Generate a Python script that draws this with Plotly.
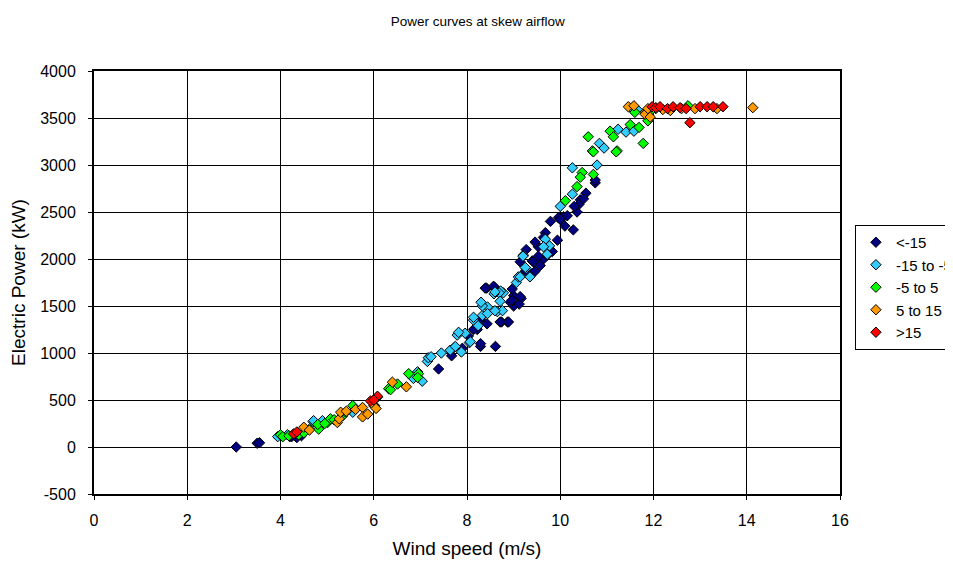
import plotly.graph_objects as go

# wind speed (m/s) / electric power (kW) per skew-angle class
lt15_x = [3.05, 3.5, 3.55, 4.2, 4.35, 4.45, 4.24,
          7.39, 7.67, 7.73, 7.9, 8.29, 8.61, 8.22, 8.74, 8.87, 8.42, 8.59, 9.0, 9.16,
          9.0, 8.93, 9.27, 9.4, 9.46, 9.53, 9.68, 9.79, 9.94, 9.83, 9.64, 9.72, 9.96,
          10.07, 10.28, 10.36, 10.43, 10.4, 10.75, 10.75, 9.12, 8.96, 8.39, 8.57, 8.97,
          9.14, 8.71, 8.89, 8.29, 8.43, 8.14, 8.03, 8.29, 9.53, 9.46, 9.64, 9.57, 9.42,
          9.14, 9.25, 9.3, 10.0, 10.15, 10.3, 10.1, 10.55, 10.5]
lt15_y = [0, 40, 45, 110, 100, 120, 110,
          830, 970, 1060, 1050, 1070, 1070, 1250, 1330, 1330, 1690, 1700, 1610, 1580,
          1500, 1540, 2100, 1980, 1870, 2130, 2280, 2400, 2200, 2080, 2000, 2040, 2440,
          2450, 2310, 2500, 2630, 2580, 2810, 2840, 1520, 1560, 1690, 1710, 1680,
          1600, 1330, 1330, 1360, 1310, 1250, 1180, 1100, 2030, 2180, 2230, 1930, 1970,
          1970, 1870, 1850, 2420, 2460, 2560, 2350, 2700, 2640]

m15_x = [3.94, 4.15, 4.7, 4.9, 4.71, 5.55,
         6.85, 6.94, 7.04, 7.15, 7.17, 7.23, 7.45, 7.64, 7.88, 7.79, 7.96, 8.05, 8.14,
         8.33, 8.44, 8.65, 8.33, 8.44, 8.78, 8.72, 9.06, 9.1, 9.21, 9.27, 9.14, 9.35,
         8.69, 8.58, 8.3, 9.68, 9.77, 9.2, 9.25, 10.0, 10.26, 10.26, 10.79, 10.84,
         10.94, 11.24, 11.41, 11.58, 11.54, 11.65, 8.6, 8.71, 8.76, 8.6, 8.14, 8.24,
         7.82, 7.75, 8.07, 9.64, 9.72]
m15_y = [110, 130, 270, 280, 280, 370,
         730, 800, 700, 910, 950, 960, 1000, 1030, 1010, 1190, 1210, 1110, 1350,
         1400, 1490, 1440, 1500, 1420, 1640, 1660, 1750, 1810, 2040, 1900, 1810, 1810,
         1640, 1630, 1540, 2210, 2140, 2030, 1910, 2560, 2690, 2970, 3000, 3230,
         3180, 3380, 3350, 3360, 3600, 3590, 1650, 1550, 1450, 1450, 1380, 1290,
         1220, 1070, 1120, 2130, 2050]

m5_x = [4.0, 4.05, 4.18, 4.39, 4.5, 4.62, 4.82, 4.8, 5.01, 5.07, 5.33, 5.4, 5.55,
        5.15, 4.95, 6.02, 6.08, 6.32, 6.36, 6.51, 6.75, 6.96, 6.94,
        10.11, 10.36, 10.47, 10.43, 10.71, 10.6, 10.69, 10.71, 11.07, 11.14, 11.22,
        11.2, 11.5, 11.69, 11.78, 11.6, 11.88, 12.74, 12.05, 11.95]
m5_y = [130, 110, 120, 130, 150, 190, 190, 240, 260, 300, 330, 370, 440,
        290, 250, 440, 530, 620, 610, 670, 780, 780, 740,
        2620, 2770, 2920, 2870, 2900, 3300, 3150, 3140, 3360, 3300, 3150,
        3140, 3430, 3400, 3230, 3560, 3470, 3630, 3600, 3580]

p5_x = [4.5, 4.62, 5.22, 5.26, 5.29, 5.41, 5.61, 5.76, 5.76, 5.87, 6.0, 6.05, 6.4,
        6.7, 11.46, 11.58, 11.82, 11.82, 11.93, 11.88, 12.36, 12.2, 12.6, 12.89,
        13.36, 14.13]
p5_y = [210, 180, 260, 300, 370, 380, 400, 420, 320, 350, 440, 410, 690,
        640, 3620, 3630, 3560, 3540, 3510, 3600, 3580, 3590, 3600, 3600,
        3600, 3610]

gt15_x = [4.28, 4.35, 5.93, 6.08, 6.0, 11.97, 12.05, 12.14, 12.3, 12.42, 12.57,
          13.0, 13.15, 13.28, 13.49, 12.78, 12.7]
gt15_y = [140, 160, 490, 540, 500, 3620, 3610, 3620, 3600, 3620, 3610,
          3620, 3620, 3620, 3620, 3450, 3600]

names = ["<-15", "-15 to -5", "-5 to 5", "5 to 15", ">15"]
colors = ["#000080", "#33CCFF", "#00FF00", "#FF9900", "#FF0000"]
series = [(lt15_x, lt15_y), (m15_x, m15_y), (m5_x, m5_y), (p5_x, p5_y), (gt15_x, gt15_y)]

y_ticks = list(range(-500, 4001, 500))
x_ticks = list(range(0, 17, 2))

fig = go.Figure()
for (xs, ys), name, col in zip(series, names, colors):
    fig.add_trace(go.Scatter(
        x=xs, y=ys, mode="markers", name=name,
        marker=dict(symbol="diamond", size=8, color=col,
                    line=dict(color="black", width=1))))

# page has an 8px body margin, so margins are trimmed accordingly
fig.update_layout(
    width=953, height=566,
    margin=dict(l=86, r=121, t=63, b=80, autoexpand=False),
    paper_bgcolor="white", plot_bgcolor="white",
    font=dict(family="Liberation Sans, Arial, sans-serif", size=16, color="black"),
    title=dict(text="Power curves at skew airflow", xref="container", x=0.493,
               y=1 - 13 / 566, yanchor="middle", xanchor="center", font=dict(size=13.5)),
    legend=dict(x=1.02, y=0.636, xanchor="left", yanchor="top",
                bordercolor="black", borderwidth=1, bgcolor="white",
                font=dict(size=15), itemwidth=30, tracegroupgap=0),
)
fig.update_xaxes(range=[0, 16], tickvals=x_ticks, ticktext=[str(v) for v in x_ticks],
                 showgrid=True, gridcolor="black", gridwidth=1,
                 zeroline=False, showline=True, linecolor="black", linewidth=2, mirror=True,
                 ticks="outside", ticklen=4, tickcolor="black", ticklabelstandoff=7,
                 title=dict(text="Wind speed (m/s)", standoff=13))
fig.update_yaxes(range=[-500, 4000], tickvals=y_ticks, ticktext=[str(v) for v in y_ticks],
                 showgrid=True, gridcolor="black", gridwidth=1,
                 zeroline=False, showline=True, linecolor="black", linewidth=2, mirror=True,
                 ticks="outside", ticklen=4, tickcolor="black", ticklabelstandoff=9,
                 title=dict(text="Electric Power (kW)", standoff=13))

fig.write_html("out.html")
